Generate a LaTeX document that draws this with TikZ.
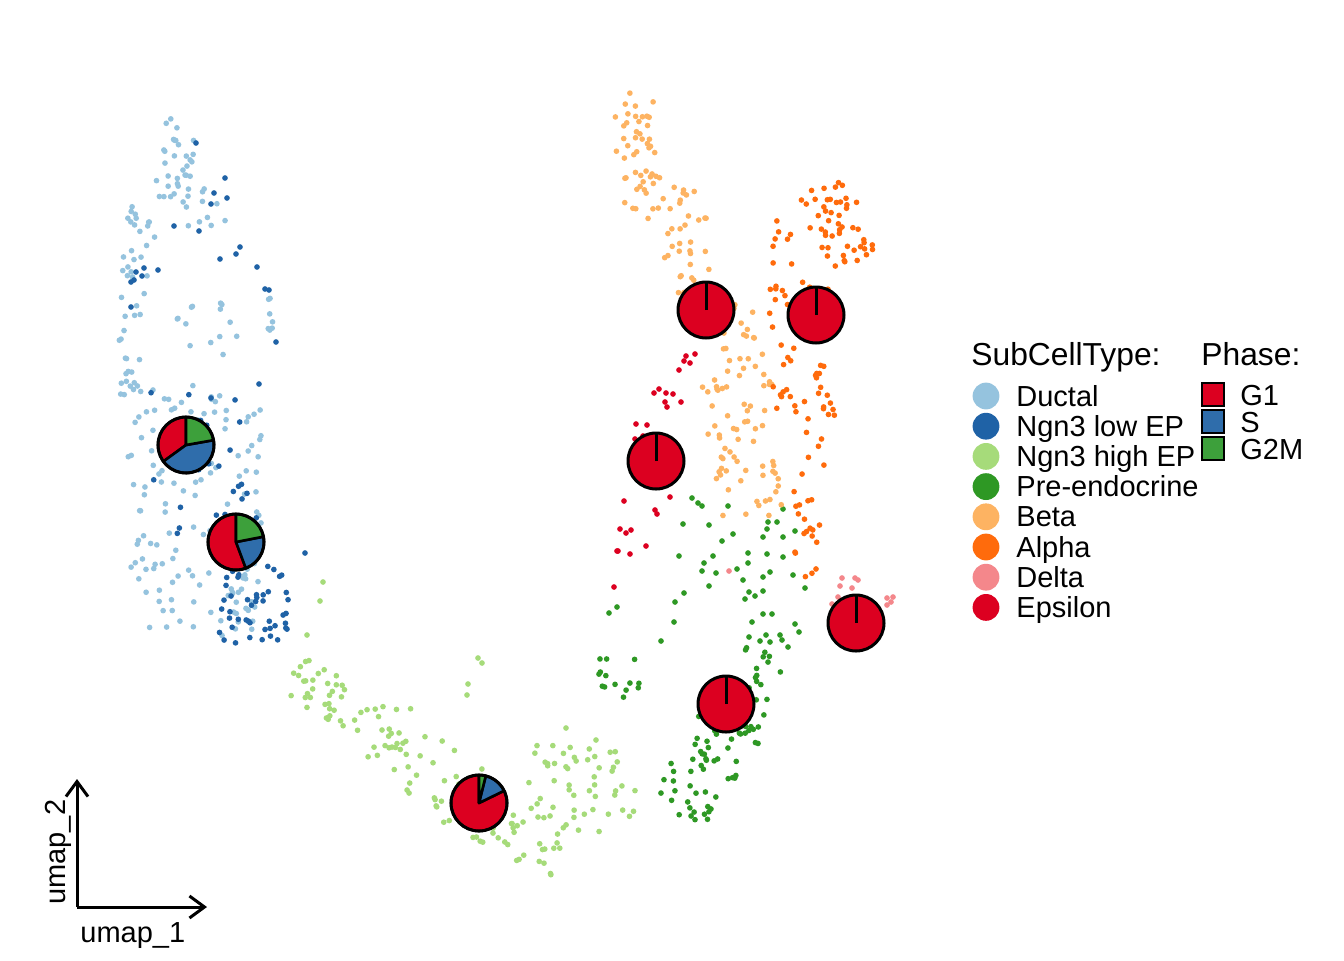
\documentclass[tikz,border=0pt]{standalone}
\usepackage{fontspec}
\setmainfont{Liberation Sans}
\usetikzlibrary{arrows.meta}
\definecolor{dct}{HTML}{95C3DE}
\definecolor{nlow}{HTML}{1F62A6}
\definecolor{nhigh}{HTML}{A6DB7A}
\definecolor{pre}{HTML}{2E9824}
\definecolor{beta}{HTML}{FDB362}
\definecolor{alpha}{HTML}{FF6B0C}
\definecolor{delta}{HTML}{F4878B}
\definecolor{eps}{HTML}{DC0020}
\definecolor{pg}{HTML}{DC0020}
\definecolor{ps}{HTML}{2F6DAB}
\definecolor{pm}{HTML}{3DA03B}
\newcommand{\dotr}{1.42pt}
\newcommand{\strip}[7]{%
  \pgfmathsetmacro{\sdx}{#4-#2}%
  \pgfmathsetmacro{\sdy}{#5-#3}%
  \pgfmathsetmacro{\sL}{max(100*sqrt((\sdx/100)*(\sdx/100)+(\sdy/100)*(\sdy/100)),0.001)}%
  \pgfmathsetmacro{\snx}{-\sdy/\sL}%
  \pgfmathsetmacro{\sny}{\sdx/\sL}%
  \foreach \k in {1,...,#7}{%
    \pgfmathsetmacro{\myT}{rnd}%
    \pgfmathsetmacro{\myO}{rand*#6}%
    \fill[#1] ({#2+\myT*\sdx+\myO*\snx},{#3+\myT*\sdy+\myO*\sny}) circle[radius=\dotr];
  }}
\newcommand{\blob}[6]{\foreach \k in {1,...,#6}{\fill[#1] ({#2+rand*#4},{#3+rand*#5}) circle[radius=\dotr];}}
\newcommand{\pts}[2]{\foreach \p in {#2}{\fill[#1] \p circle[radius=\dotr];}}
\newcommand{\slice}[4]{\filldraw[fill=#1,draw=black,line width=1.3pt,line join=round] (#2) -- ++(#3:14pt) arc[start angle=#3,end angle=#4,radius=14pt] -- cycle;}
\newcommand{\rim}[1]{\draw[line width=1.5pt] (#1) circle[radius=14pt];}
\newcommand{\redpie}[1]{\fill[pg] (#1) circle[radius=14pt]; \draw[line width=1.5pt] (#1) circle[radius=14pt]; \draw[line width=1.5pt] (#1) -- ++(90:14pt);}
\tikzset{
  lab/.style={anchor=base west, inner sep=0pt, font=\fontsize{14.5pt}{16pt}\selectfont},
  ttl/.style={anchor=base west, inner sep=0pt, font=\fontsize{15.9pt}{17pt}\selectfont},
  key/.style={circle, inner sep=0pt, minimum size=13.4pt},
  sq/.style={draw=black, line width=1pt, inner sep=0pt, minimum width=11pt, minimum height=11.4pt},
  ax/.style={line width=1.5pt, -{Straight Barb[length=7.5pt,width=11pt,line width=1.5pt]}}
}
\begin{document}
\begin{tikzpicture}[x=0.5pt,y=-0.5pt]
\useasboundingbox (0,0) rectangle (1344,960);
\pgfmathsetseed{2024}
% ---------- Ductal ----------
\strip{dct}{183}{116}{170}{200}{18}{30}
\blob{dct}{200}{205}{32}{22}{14}
\strip{dct}{145}{205}{130}{300}{16}{25}
\blob{dct}{205}{330}{35}{28}{14}
\strip{dct}{270}{290}{272}{345}{4}{7}
\strip{dct}{128}{300}{135}{400}{14}{20}
\blob{dct}{192}{485}{70}{100}{115}
\blob{dct}{200}{605}{55}{32}{40}
% ---------- Ngn3 low EP ----------
\pts{nlow}{(196,143),(225,178),(214,193),(227,198),(211,204),(174,226),(199,231),(240,247),(236,254),(220,259),(257,267),(136,272),(144,268),(142,276),(131,282),(134,280),(158,270),(131,307),(265,289),(269,290),(276,342),(259,384),(211,398),(305,553)}
\blob{nlow}{195}{470}{68}{85}{22}
\blob{nlow}{252}{603}{38}{40}{45}
\blob{nlow}{245}{520}{25}{35}{12}
% ---------- Ngn3 high EP ----------
\pts{nhigh}{(323,582),(320,601),(307,635),(478,658),(482,663),(468,684),(467,695),(566,728),(596,740)}
\strip{nhigh}{290}{672}{380}{725}{22}{40}
\strip{nhigh}{380}{725}{470}{800}{34}{48}
\strip{nhigh}{450}{805}{560}{860}{20}{40}
\blob{nhigh}{580}{790}{55}{45}{55}
% ---------- Pre-endocrine ----------
\pts{pre}{(692,498),(698,503),(702,506),(728,506),(683,524),(709,525),(722,541),(733,534),(763,537),(768,522),(777,522),(783,509),(795,531),(783,537),(767,529),(679,556),(704,563),(702,571),(713,556),(716,573),(737,569),(748,553),(748,563),(767,554),(783,557),(763,577),(770,572),(743,580),(709,586),(684,593),(675,602),(749,592),(755,596),(763,591),(745,599),(793,575),(805,588),(617,607),(609,613),(674,622),(661,641),(763,614),(772,614),(752,622),(795,624),(799,632),(749,637),(766,635),(780,635),(770,642),(782,640),(760,641),(788,647)}
\strip{pre}{765}{650}{745}{735}{20}{30}
\strip{pre}{735}{715}{680}{820}{35}{60}
\blob{pre}{625}{675}{35}{25}{14}
% ---------- Beta ----------
\strip{beta}{640}{92}{635}{180}{24}{35}
\strip{beta}{630}{185}{705}{225}{26}{32}
\strip{beta}{680}{240}{700}{300}{22}{20}
\blob{beta}{735}{322}{25}{22}{15}
\strip{beta}{732}{345}{750}{525}{36}{72}
% ---------- Alpha ----------
\strip{alpha}{825}{185}{850}{265}{28}{50}
\blob{alpha}{785}{240}{14}{25}{8}
\strip{alpha}{800}{280}{805}{420}{32}{55}
\strip{alpha}{815}{430}{800}{590}{16}{25}
% ---------- Delta ----------
\pts{delta}{(855,578),(840,586),(852,588),(838,597),(832,604),(887,598),(893,597),(891,602),(887,605),(729,571),(858,580),(842,578)}
% ---------- Epsilon ----------
\pts{eps}{(686,356),(695,354),(684,361),(690,363),(679,370),(659,389),(654,393),(666,393),(673,394),(681,402),(665,402),(667,407),(636,424),(647,425),(635,439),(643,436),(624,501),(670,497),(655,510),(657,514),(620,529),(626,533),(631,530),(617,551),(618,551),(630,554),(646,546),(614,587)}
% ---------- Pies ----------
\coordinate (pa) at (186,445);
\coordinate (pb) at (236,542);
\coordinate (pc) at (479,803);
\coordinate (pd) at (706,310);
\coordinate (pe) at (816,315);
\coordinate (pf) at (656,461);
\coordinate (pgg) at (726,704);
\coordinate (ph) at (856,623);
\slice{pg}{pa}{90}{216}
\slice{ps}{pa}{216}{370}
\slice{pm}{pa}{10}{90}
\rim{pa}
\slice{pg}{pb}{90}{290.5}
\slice{ps}{pb}{-69.5}{11}
\slice{pm}{pb}{11}{90}
\rim{pb}
\slice{pg}{pc}{90}{386}
\slice{ps}{pc}{26}{76}
\slice{pm}{pc}{76}{90}
\rim{pc}
\redpie{pd}
\redpie{pe}
\redpie{pf}
\redpie{pgg}
\redpie{ph}
% ---------- Axes ----------
\coordinate (o) at (77,907);
\coordinate (ay) at (77,779);
\coordinate (ax) at (207,907);
\draw[ax] (o) -- (ay);
\draw[ax] (o) -- (ax);
\node[lab] (u1) at (80,942) {umap\_1};
\node[lab, rotate=90] (u2) at (65,905) {umap\_2};
% ---------- Legend ----------
\node[ttl] (t1) at (971,365) {SubCellType:};
\node[ttl] (t2) at (1201,365) {Phase:};
\foreach \c/\t [count=\i from 0] in {dct/Ductal,nlow/Ngn3 low EP,nhigh/Ngn3 high EP,pre/Pre-endocrine,beta/Beta,alpha/Alpha,delta/Delta,eps/Epsilon}{
  \pgfmathsetmacro{\yy}{396+30.2*\i}
  \node[key, fill=\c] (k\i) at (986,\yy) {};
  \node[lab] (l\i) at (1016,\yy+10) {\t};
}
\foreach \c/\t [count=\i from 0] in {pg/G1,ps/S,pm/G2M}{
  \pgfmathsetmacro{\yy}{394.5+27*\i}
  \node[sq, fill=\c] (q\i) at (1213,\yy) {};
  \node[lab] (m\i) at (1240,\yy+10.5) {\t};
}
\end{tikzpicture}
\end{document}
